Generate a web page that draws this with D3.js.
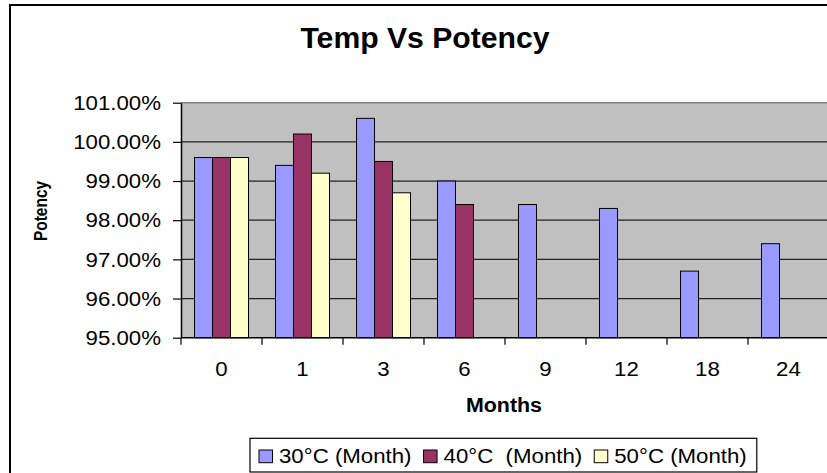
<!DOCTYPE html>
<html>
<head>
<meta charset="utf-8">
<script src="https://cdn.jsdelivr.net/npm/d3@7"></script>
<style>
  body { margin: 0; background: #fff; }
  text { font-family: "Liberation Sans", Arial, sans-serif; }
</style>
</head>
<body>
<svg id="chart" width="827" height="473"></svg>
<script>
// data
var months = ["0", "1", "3", "6", "9", "12", "18", "24"]
var seriesNames = ["30°C (Month)", "40°C  (Month)", "50°C (Month)"]
var temp30 = [0.996, 0.994, 1.006, 0.990, 0.984, 0.983, 0.967, 0.974]
var temp40 = [0.996, 1.002, 0.995, 0.984, null, null, null, null]
var temp50 = [0.996, 0.992, 0.987, null, null, null, null, null]
var yTicks = [0.95, 0.96, 0.97, 0.98, 0.99, 1.00, 1.01]
var colors = ["#9999FF", "#993366", "#FFFFCC"]

var dimensions = {
    width: 827,
    height: 473,
    plot: { left: 181, right: 829, top: 102.7, bottom: 337.7 }
}
// the source picture is a bit wider than it is tall, text too
var stretchX = 1.06

function stretch(sel, s) {
    sel.each(function () {
        var t = d3.select(this)
        var x = +t.attr("x") || 0
        t.attr("transform", "translate(" + (x * (1 - s)) + ",0) scale(" + s + ",1)")
    })
}

var svg = d3.select("#chart")

var table = months.map(function (m, i) {
    return { month: m, values: [temp30[i], temp40[i], temp50[i]] }
})

// outer chart border (runs off the right/bottom edge)
svg.append("rect")
    .attr("x", 10).attr("y", 5)
    .attr("width", 900).attr("height", 600)
    .attr("fill", "#fff")
    .attr("stroke", "#000")
    .attr("stroke-width", 2)

var xScale = d3.scaleBand()
    .domain(months)
    .range([dimensions.plot.left, dimensions.plot.right])

var xInner = d3.scaleBand()
    .domain(d3.range(seriesNames.length))
    .range([0, xScale.bandwidth()])
    .paddingOuter(0.75)

var yScale = d3.scaleLinear()
    .domain([0.95, 1.01])
    .range([dimensions.plot.bottom, dimensions.plot.top])

// plot background
svg.append("rect")
    .attr("x", dimensions.plot.left)
    .attr("y", dimensions.plot.top)
    .attr("width", dimensions.plot.right - dimensions.plot.left)
    .attr("height", dimensions.plot.bottom - dimensions.plot.top)
    .attr("fill", "#C0C0C0")

svg.append("line")
    .attr("x1", dimensions.plot.left).attr("x2", dimensions.plot.right)
    .attr("y1", dimensions.plot.top).attr("y2", dimensions.plot.top)
    .attr("stroke", "#808080").attr("stroke-width", 1.5)

// gridlines
svg.append("g")
    .selectAll("line")
    .data(yTicks.slice(1, -1))
    .enter()
    .append("line")
    .attr("x1", dimensions.plot.left)
    .attr("x2", dimensions.plot.right)
    .attr("y1", d => yScale(d))
    .attr("y2", d => yScale(d))
    .attr("stroke", "#222")
    .attr("stroke-width", 1.2)

// bars
var groups = svg.append("g")
    .selectAll("g")
    .data(table)
    .enter()
    .append("g")
    .attr("transform", d => "translate(" + xScale(d.month) + ",0)")

groups.selectAll("rect")
    .data(d => d.values.map((v, k) => ({ k: k, v: v })).filter(e => e.v != null))
    .enter()
    .append("rect")
    .attr("x", d => xInner(d.k))
    .attr("width", xInner.bandwidth())
    .attr("y", d => yScale(d.v))
    .attr("height", d => yScale(0.95) - yScale(d.v))
    .attr("fill", d => colors[d.k])
    .attr("stroke", "#000")
    .attr("stroke-width", 1)

// y axis
var yAxis = svg.append("g")
    .attr("transform", "translate(" + dimensions.plot.left + ",0)")
    .call(d3.axisLeft(yScale)
        .tickValues(yTicks)
        .tickFormat(d3.format(".2%"))
        .tickSize(8)
        .tickSizeOuter(0)
        .tickPadding(12))
yAxis.select(".domain").attr("stroke", "#000").attr("stroke-width", 1.5)
yAxis.selectAll("line").attr("stroke", "#000").attr("stroke-width", 1.2)
yAxis.selectAll("text")
    .style("font-family", "Liberation Sans, Arial, sans-serif")
    .style("font-size", "21px")
    .attr("fill", "#000")
    .call(stretch, stretchX)

// x axis: labels centred, ticks at category boundaries
var xAxis = svg.append("g")
    .attr("transform", "translate(0," + dimensions.plot.bottom + ")")
    .call(d3.axisBottom(xScale).tickSize(0).tickSizeOuter(0).tickPadding(23))
xAxis.select(".domain").remove()
xAxis.selectAll("text")
    .style("font-family", "Liberation Sans, Arial, sans-serif")
    .style("font-size", "21px")
    .attr("fill", "#000")
    .call(stretch, stretchX)

svg.append("line")
    .attr("x1", dimensions.plot.left).attr("x2", dimensions.plot.right)
    .attr("y1", dimensions.plot.bottom).attr("y2", dimensions.plot.bottom)
    .attr("stroke", "#000").attr("stroke-width", 1.5)

svg.append("g")
    .selectAll("line")
    .data(months)
    .enter()
    .append("line")
    .attr("x1", d => xScale(d)).attr("x2", d => xScale(d))
    .attr("y1", dimensions.plot.bottom)
    .attr("y2", dimensions.plot.bottom + 7)
    .attr("stroke", "#000").attr("stroke-width", 1.2)

// titles
svg.append("text")
    .attr("x", 425).attr("y", 48.3)
    .attr("text-anchor", "middle")
    .style("font-weight", "bold")
    .style("font-size", "29px")
    .text("Temp Vs Potency")
    .call(stretch, 1.04)

svg.append("text")
    .attr("x", 504).attr("y", 411.7)
    .attr("text-anchor", "middle")
    .style("font-weight", "bold")
    .style("font-size", "20px")
    .text("Months")
    .call(stretch, 1.07)

svg.append("text")
    .attr("transform", "translate(46.5,211)scale(1.22,1)rotate(-90)")
    .attr("text-anchor", "middle")
    .style("font-weight", "bold")
    .style("font-size", "15.5px")
    .text("Potency")

// legend
var legend = svg.append("g")
var legendBox = legend.append("rect")
    .attr("y", 438.3)
    .attr("height", 33.7)
    .attr("fill", "#fff")
    .attr("stroke", "#000")
    .attr("stroke-width", 1.2)

var cursor = 259
seriesNames.forEach(function (name, k) {
    legend.append("rect")
        .attr("x", cursor).attr("y", 450)
        .attr("width", 13.5).attr("height", 12.7)
        .attr("fill", colors[k])
        .attr("stroke", "#000")
        .attr("stroke-width", 1)
    var t = legend.append("text")
        .attr("x", cursor + 20).attr("y", 463.3)
        .style("font-size", "21px")
        .style("white-space", "pre")
        .attr("xml:space", "preserve")
        .text(name)
        .call(stretch, stretchX)
    cursor = cursor + 20 + t.node().getComputedTextLength() * stretchX + 12
})
legendBox.attr("x", 250).attr("width", cursor - 12 + 10 - 250)
</script>
</body>
</html>
